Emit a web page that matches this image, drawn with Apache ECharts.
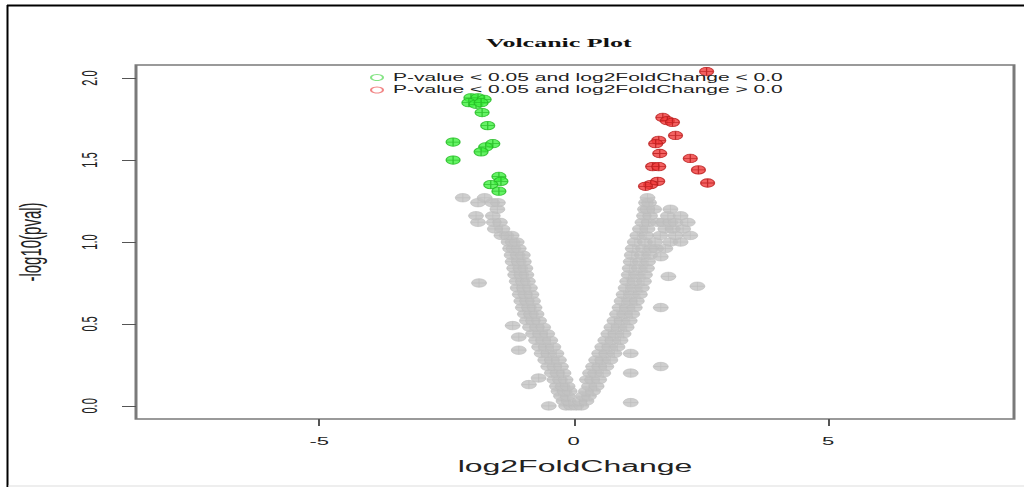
<!DOCTYPE html>
<html>
<head>
<meta charset="utf-8">
<script src="https://cdn.jsdelivr.net/npm/echarts@6/dist/echarts.min.js"></script>
<style>
html,body{margin:0;padding:0;background:#fff;overflow:hidden;width:1024px;height:487px;}
#chart{width:512px;height:487px;transform:scaleX(2);transform-origin:0 0;}
</style>
</head>
<body>
<div id="chart"></div>
<script>
// ---- data (log2FoldChange, -log10(pval)) ----
const xTicks = [-5, 0, 5];
const yTicks = [0, 0.5, 1.0, 1.5, 2.0];

const greenPoints = [
  [-2.02,1.88],[-1.88,1.88],[-1.76,1.87],[-2.06,1.85],[-1.92,1.84],[-1.82,1.85],
  [-1.80,1.79],[-1.69,1.71],[-2.37,1.61],[-1.59,1.60],[-1.73,1.58],[-1.82,1.55],
  [-2.37,1.50],[-1.47,1.40],[-1.43,1.37],[-1.63,1.35],[-1.47,1.31]
];
const redPoints = [
  [2.61,2.04],[1.75,1.76],[1.84,1.74],[1.94,1.73],[2.00,1.65],[1.67,1.62],[1.61,1.60],
  [1.69,1.54],[2.29,1.51],[1.55,1.46],[1.67,1.46],[2.45,1.44],[1.65,1.37],[1.51,1.35],
  [1.41,1.34],[2.63,1.36]
];
const greyLeft = [
  [-0.15,0.00],[-0.05,0.00],[0.05,0.00],[0.15,0.00],
  [-0.20,0.03],[-0.10,0.03],
  [-0.25,0.06],[-0.12,0.06],
  [-0.30,0.09],[-0.18,0.09],[-0.08,0.09],
  [-0.33,0.12],[-0.22,0.12],[-0.12,0.12],
  [-0.38,0.16],[-0.27,0.16],[-0.16,0.16],
  [-0.43,0.20],[-0.32,0.20],[-0.20,0.20],
  [-0.50,0.24],[-0.38,0.24],[-0.25,0.24],
  [-0.56,0.28],[-0.43,0.28],[-0.29,0.28],
  [-0.63,0.32],[-0.50,0.32],[-0.34,0.32],
  [-0.68,0.36],[-0.55,0.36],[-0.40,0.36],
  [-0.74,0.40],[-0.60,0.40],[-0.46,0.40],
  [-0.80,0.44],[-0.66,0.44],[-0.52,0.44],
  [-0.86,0.48],[-0.72,0.48],[-0.60,0.48],
  [-0.92,0.52],[-0.80,0.52],[-0.68,0.52],
  [-0.96,0.56],[-0.84,0.56],[-0.73,0.56],
  [-1.00,0.60],[-0.88,0.60],[-0.77,0.60],
  [-1.03,0.64],[-0.92,0.64],[-0.80,0.64],
  [-1.06,0.68],[-0.95,0.68],[-0.83,0.68],
  [-1.10,0.72],[-0.98,0.72],[-0.86,0.72],
  [-1.12,0.76],[-1.00,0.76],[-0.90,0.76],
  [-1.15,0.80],[-1.03,0.80],[-0.93,0.80],
  [-1.17,0.84],[-1.05,0.84],[-0.95,0.84],
  [-1.20,0.88],[-1.08,0.88],[-0.98,0.88],
  [-1.22,0.92],[-1.10,0.92],[-1.00,0.92],
  [-1.25,0.96],[-1.18,0.96],[-1.08,0.96],
  [-1.28,1.00],[-1.20,1.00],[-1.12,1.00],
  [-1.32,1.04],[-1.22,1.04],[-1.42,1.04],
  [-1.40,1.08],[-1.55,1.08],
  [-1.45,1.12],[-1.57,1.12],[-1.88,1.12],
  [-1.59,1.16],[-1.92,1.16],
  [-1.50,1.20],
  [-1.88,1.24],[-1.60,1.24],[-1.49,1.24],
  [-2.18,1.27],[-1.75,1.27]
];
const greyRight = [
  [0.12,0.03],[0.25,0.03],
  [0.18,0.06],[0.30,0.06],
  [0.24,0.09],[0.38,0.09],
  [0.30,0.12],[0.45,0.12],
  [0.26,0.16],[0.36,0.16],[0.50,0.16],
  [0.32,0.20],[0.42,0.20],[0.58,0.20],
  [0.38,0.24],[0.50,0.24],[0.64,0.24],
  [0.44,0.28],[0.56,0.28],[0.72,0.28],
  [0.50,0.32],[0.64,0.32],[0.80,0.32],
  [0.56,0.36],[0.70,0.36],[0.86,0.36],
  [0.62,0.40],[0.76,0.40],[0.92,0.40],
  [0.68,0.44],[0.82,0.44],[0.98,0.44],
  [0.74,0.48],[0.88,0.48],[1.04,0.48],
  [0.80,0.52],[0.94,0.52],[1.10,0.52],
  [0.85,0.56],[1.00,0.56],[1.15,0.56],
  [0.90,0.60],[1.05,0.60],[1.20,0.60],
  [0.94,0.64],[1.10,0.64],[1.24,0.64],
  [0.98,0.68],[1.14,0.68],[1.30,0.68],
  [1.02,0.72],[1.18,0.72],[1.34,0.72],
  [1.05,0.76],[1.20,0.76],[1.38,0.76],
  [1.08,0.80],[1.24,0.80],[1.40,0.80],
  [1.10,0.84],[1.28,0.84],[1.44,0.84],
  [1.12,0.88],[1.30,0.88],[1.46,0.88],
  [1.14,0.92],[1.34,0.92],[1.50,0.92],
  [1.16,0.96],[1.36,0.96],[1.52,0.96],[1.62,0.96],[1.80,0.96],
  [1.20,1.00],[1.40,1.00],[1.60,1.00],[1.90,1.00],[2.10,1.00],
  [1.25,1.04],[1.42,1.04],[1.70,1.04],[2.00,1.04],[2.29,1.04],
  [1.30,1.08],[1.45,1.08],[1.80,1.08],[1.95,1.08],[2.15,1.08],
  [1.35,1.12],[1.47,1.12],[1.65,1.12],[1.76,1.12],[1.90,1.12],[2.00,1.12],[2.24,1.12],
  [1.38,1.16],[1.50,1.16],[1.85,1.16],[2.10,1.16],
  [1.40,1.20],[1.45,1.20],[1.58,1.20],[1.90,1.20],
  [1.42,1.24],[1.48,1.24],
  [1.45,1.27]
];
const greyOutliers = [
  [-1.86,0.75],[-1.20,0.49],[-1.08,0.42],[-1.08,0.34],[-0.88,0.13],[-0.69,0.17],[-0.49,0.00],
  [1.71,0.91],[1.86,0.79],[2.43,0.73],[1.71,0.60],[1.12,0.32],[1.71,0.24],[1.12,0.20],[1.12,0.02]
];
const nameDown = 'P-value < 0.05 and log2FoldChange < 0.0';
const nameUp = 'P-value < 0.05 and log2FoldChange > 0.0';

// ---- chart ----
const circlePlus = 'path://M-10,0 A10,10 0 1,0 10,0 A10,10 0 1,0 -10,0 Z M0,-10 L0,10 M-10,0 L10,0';
const chart = echarts.init(document.getElementById('chart'), null, {renderer: 'svg'});
const font = 'Liberation Sans, Arial, sans-serif';
chart.setOption({
  animation: false,
  backgroundColor: '#ffffff',
  title: {
    text: 'Volcanic Plot', left: 238, top: 31,
    textStyle: {fontFamily: 'Liberation Serif, Times New Roman, serif', fontWeight: 'bold', fontSize: 13, color: '#111'}
  },
  legend: {
    orient: 'vertical', left: 180, top: 67, itemGap: 1.5, itemWidth: 6, itemHeight: 6,
    textStyle: {fontFamily: font, fontSize: 10.5, color: '#222'},
    data: [
      {name: nameDown, icon: 'circle', itemStyle: {color: 'rgba(0,0,0,0)', borderColor: '#66dd66', borderWidth: 1}},
      {name: nameUp, icon: 'circle', itemStyle: {color: 'rgba(0,0,0,0)', borderColor: '#ee6666', borderWidth: 1}}
    ]
  },
  grid: {left: 67.5, right: 5, top: 65, bottom: 68, show: true, borderColor: '#7a7a7a', borderWidth: 1.5, backgroundColor: 'transparent'},
  xAxis: {
    type: 'value', min: -8.6, max: 8.65,
    name: 'log2FoldChange', nameLocation: 'middle', nameGap: 39,
    nameTextStyle: {fontFamily: font, fontSize: 16, color: '#222'},
    axisLine: {show: false, onZero: false},
    axisTick: {show: true, customValues: xTicks, length: 7, lineStyle: {color: '#555', width: 1}},
    axisLabel: {customValues: xTicks, margin: 17, fontFamily: font, fontSize: 11, color: '#222'},
    splitLine: {show: false}
  },
  yAxis: {
    type: 'value', min: -0.08, max: 2.08,
    name: '-log10(pval)', nameLocation: 'middle', nameGap: 45, nameRotate: 90,
    nameTextStyle: {fontFamily: font, fontSize: 15, color: '#222'},
    axisLine: {show: false, onZero: false},
    axisTick: {show: true, customValues: yTicks, length: 7, lineStyle: {color: '#555', width: 1}},
    axisLabel: {customValues: yTicks, rotate: 90, margin: 18, fontFamily: font, fontSize: 11, color: '#222',
      formatter: v => v.toFixed(1)},
    splitLine: {show: false}
  },
  graphic: [
    {type: 'line', shape: {x1: 3.75, y1: 5, x2: 3.75, y2: 490}, style: {stroke: '#000', lineWidth: 1}},
    {type: 'line', shape: {x1: 3.5, y1: 5.5, x2: 520, y2: 5.5}, style: {stroke: '#000', lineWidth: 2}},
    {type: 'line', shape: {x1: 4, y1: 486, x2: 520, y2: 486}, style: {stroke: '#dddddd', lineWidth: 1}}
  ],
  series: [
    {
      name: 'other genes', type: 'scatter', symbol: circlePlus, symbolSize: [7.5, 8.5],
      itemStyle: {color: '#c2c2c2', borderColor: '#bdbdbd', borderWidth: 0.5},
      data: greyLeft.concat(greyRight, greyOutliers), z: 2
    },
    {
      name: nameDown, type: 'scatter', symbol: circlePlus, symbolSize: [7, 8.5],
      itemStyle: {color: '#3ef03e', borderColor: '#22b822', borderWidth: 0.7},
      data: greenPoints, z: 3
    },
    {
      name: nameUp, type: 'scatter', symbol: circlePlus, symbolSize: [7, 8.5],
      itemStyle: {color: '#f03a3a', borderColor: '#b81c1c', borderWidth: 0.7},
      data: redPoints, z: 3
    }
  ]
});
</script>
</body>
</html>
